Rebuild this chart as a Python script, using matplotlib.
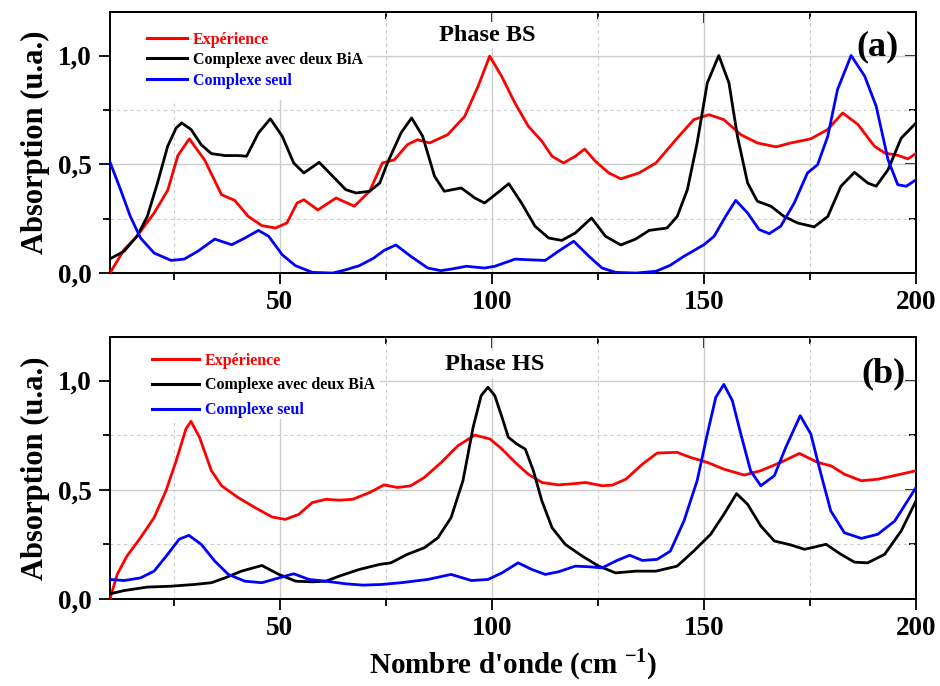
import matplotlib
matplotlib.use('Agg')
import matplotlib.pyplot as plt
from matplotlib.ticker import MultipleLocator, FuncFormatter
from matplotlib.patches import Rectangle
from matplotlib.lines import Line2D

plt.rcParams['font.family'] = ['Liberation Serif', 'DejaVu Serif']
plt.rcParams['font.weight'] = 'bold'
plt.rcParams['mathtext.fontset'] = 'custom'
plt.rcParams['mathtext.rm'] = 'Liberation Serif'
plt.rcParams['mathtext.bf'] = 'Liberation Serif:bold'

# ---- Phase BS (a) ----
bs_exp_x = [10, 13.3, 16.4, 20.4, 23.6, 26, 28.7, 32.3, 36.3, 39.4, 42.6, 45.8, 49, 51.7, 54.1, 55.7, 59, 63.3,
            67.6, 71.2, 74.2, 77, 80.1, 82.5, 85.3, 89.6, 93.6, 96.8, 99.5, 102.3, 105.5, 108.6, 111.8, 114.2,
            116.9, 119.7, 121.9, 124.4, 127.6, 130.4, 134.7, 138.7, 143.7, 147.6, 151.2, 154.7, 158.7, 162.6,
            167, 170.5, 175.2, 179.2, 182.7, 186.3, 190.2, 192.6, 195.7, 198.1, 200]
bs_exp_y = [0, 0.107, 0.17, 0.276, 0.38, 0.54, 0.617, 0.52, 0.36, 0.334, 0.26, 0.218, 0.207, 0.23, 0.322, 0.337,
            0.29, 0.345, 0.307, 0.376, 0.506, 0.52, 0.59, 0.613, 0.598, 0.636, 0.72, 0.86, 0.997, 0.905, 0.78,
            0.675, 0.606, 0.537, 0.506, 0.537, 0.57, 0.514, 0.46, 0.433, 0.46, 0.506, 0.62, 0.705, 0.728, 0.705,
            0.636, 0.598, 0.58, 0.598, 0.617, 0.66, 0.736, 0.683, 0.583, 0.552, 0.541, 0.525, 0.55]

bs_bia_x = [10, 13.3, 16.4, 18.8, 21.2, 23.6, 25.6, 26.9, 29.1, 31.5, 33.9, 37.1, 40.2, 42.2, 45, 47.8, 50.6,
            53.3, 55.7, 59.3, 62.5, 65.6, 68, 71.2, 73.6, 75.4, 78.6, 81.1, 83.7, 86.5, 88.8, 92.8, 96, 98.3,
            101.5, 104, 107, 110.2, 113.4, 116.5, 119.7, 123.5, 126.8, 130.4, 133.9, 137.1, 141.3, 143.7, 146.1,
            148.4, 150.8, 153.5, 155.9, 157.9, 160.3, 162.6, 165.8, 168.9, 172.1, 176, 179.2, 182.3, 185.5,
            188.6, 190.6, 193.4, 196.5, 200]
bs_bia_y = [0.065, 0.1, 0.17, 0.26, 0.414, 0.583, 0.667, 0.69, 0.66, 0.59, 0.549, 0.54, 0.54, 0.537, 0.644,
            0.709, 0.629, 0.506, 0.46, 0.509, 0.445, 0.383, 0.368, 0.376, 0.414, 0.506, 0.644, 0.713, 0.629,
            0.445, 0.376, 0.391, 0.345, 0.322, 0.371, 0.411, 0.322, 0.215, 0.161, 0.15, 0.184, 0.253, 0.169,
            0.129, 0.156, 0.196, 0.207, 0.26, 0.383, 0.598, 0.874, 1.0, 0.874, 0.629, 0.414, 0.33, 0.307, 0.26,
            0.23, 0.212, 0.26, 0.399, 0.463, 0.414, 0.399, 0.475, 0.62, 0.69]

bs_seul_x = [10, 12.5, 14.8, 17.2, 20.4, 24.4, 27.5, 30.7, 34.7, 38.7, 41.8, 45, 47.4, 50.6, 53.7, 57.7, 62.5,
             65.6, 68.8, 72.2, 74.6, 77.4, 80.9, 84.9, 88, 90.4, 94, 98.3, 100.7, 105.5, 108.6, 112.6, 115.7,
             119.3, 122.9, 126, 129.2, 134, 138.7, 142, 145.3, 150, 152.4, 155.1, 157.5, 160.3, 163, 165.4,
             168.1, 171.3, 174.4, 176.8, 179.2, 181.5, 184.7, 187.9, 190.6, 193.4, 195.7, 197.7, 200]
bs_seul_y = [0.51, 0.383, 0.26, 0.161, 0.092, 0.058, 0.064, 0.1, 0.156, 0.13, 0.161, 0.196, 0.169, 0.084,
             0.034, 0.003, 0, 0.015, 0.034, 0.069, 0.104, 0.129, 0.077, 0.023, 0.011, 0.018, 0.031, 0.023,
             0.031, 0.064, 0.061, 0.058, 0.1, 0.146, 0.077, 0.023, 0.003, 0, 0.008, 0.035, 0.077, 0.13, 0.169,
             0.26, 0.334, 0.276, 0.2, 0.181, 0.215, 0.322, 0.46, 0.498, 0.629, 0.844, 1.0, 0.905, 0.767, 0.521,
             0.406, 0.399, 0.429]

# ---- Phase HS (b) ----
hs_exp_x = [10, 11.7, 14, 17.2, 20.4, 23.2, 25.6, 27.9, 29.1, 31.1, 33.9, 36.3, 40.2, 44.2, 48.2, 51.3, 54.5,
            57.7, 60.9, 64, 67.2, 71.2, 74.6, 77.8, 80.9, 84.1, 88.1, 92, 96, 99.6, 102.4, 105.5, 108.6, 111.8,
            115.7, 119.7, 122.1, 126, 128.4, 131.6, 135.5, 139, 143.7, 146.8, 150.8, 154.7, 159.5, 163.4, 168.1,
            172.5, 176.8, 180, 183.1, 187.1, 191, 195.7, 200]
hs_exp_y = [0, 0.112, 0.196, 0.28, 0.372, 0.495, 0.632, 0.778, 0.813, 0.74, 0.587, 0.518, 0.464, 0.418, 0.375,
            0.364, 0.387, 0.441, 0.456, 0.452, 0.456, 0.487, 0.522, 0.51, 0.518, 0.556, 0.625, 0.701, 0.75,
            0.732, 0.686, 0.625, 0.571, 0.533, 0.522, 0.528, 0.533, 0.518, 0.521, 0.548, 0.617, 0.668, 0.671,
            0.648, 0.625, 0.594, 0.567, 0.587, 0.625, 0.666, 0.625, 0.609, 0.571, 0.541, 0.548, 0.568, 0.587]

hs_bia_x = [10, 13.3, 18.8, 24.4, 29.9, 33.9, 37.1, 41, 45.8, 49.8, 53.8, 57.7, 60.9, 64, 68.8, 73.6, 76.2,
            80.1, 84.1, 87.3, 90.4, 93.2, 95.6, 97.5, 99.1, 100.7, 102.4, 103.9, 105.9, 107.9, 109.8, 111.8,
            114.2, 117.3, 121.3, 125.2, 129.2, 133.9, 138.7, 143.7, 147.6, 151.6, 154.7, 157.7, 160.3, 163.4,
            166.6, 170.5, 173.7, 176, 178.8, 182.3, 185.5, 188.6, 192.6, 196.5, 200]
hs_bia_y = [0.023, 0.038, 0.054, 0.058, 0.066, 0.074, 0.096, 0.127, 0.153, 0.112, 0.081, 0.078, 0.081, 0.104,
            0.135, 0.158, 0.165, 0.204, 0.234, 0.28, 0.372, 0.541, 0.786, 0.931, 0.969, 0.931, 0.832, 0.74,
            0.709, 0.686, 0.587, 0.449, 0.326, 0.25, 0.196, 0.15, 0.119, 0.127, 0.127, 0.15, 0.219, 0.296,
            0.387, 0.482, 0.433, 0.334, 0.265, 0.247, 0.227, 0.237, 0.25, 0.204, 0.168, 0.165, 0.204, 0.311,
            0.449]

hs_seul_x = [10, 13.3, 17.2, 20.4, 23.6, 26.3, 28.6, 31.5, 34.7, 37.9, 41.8, 45.8, 49.8, 53.3, 56.9, 60.9,
             65.6, 69.6, 74, 78.6, 84.9, 90.4, 95.2, 99.1, 102.4, 106.2, 109.4, 112.6, 115.7, 119.7, 122.9, 126,
             129.2, 132.5, 135.5, 139, 142.1, 145.3, 148.4, 150.8, 152.8, 154.7, 156.7, 158.7, 161, 163.4,
             166.6, 169.3, 172.7, 175.2, 177.6, 179.9, 183.1, 187.1, 191, 195, 200]
hs_seul_y = [0.089, 0.084, 0.096, 0.127, 0.204, 0.273, 0.291, 0.25, 0.173, 0.112, 0.081, 0.074, 0.096, 0.115,
             0.089, 0.081, 0.069, 0.063, 0.066, 0.074, 0.089, 0.112, 0.084, 0.089, 0.119, 0.165, 0.135, 0.112,
             0.124, 0.15, 0.147, 0.142, 0.173, 0.2, 0.176, 0.181, 0.219, 0.357, 0.541, 0.755, 0.923, 0.982,
             0.908, 0.755, 0.587, 0.518, 0.564, 0.694, 0.839, 0.755, 0.571, 0.403, 0.303, 0.277, 0.296, 0.357,
             0.51]

labels = ['Expérience', 'Complexe avec deux BiA', 'Complexe seul']
colors = ['#ff0000', '#000000', '#0000ff']

fig = plt.figure(figsize=(9.4, 6.86), dpi=100)
ax_a = fig.add_axes([0.117, 0.602, 0.8575, 0.3805])
ax_b = fig.add_axes([0.117, 0.127, 0.8575, 0.382])

comma = FuncFormatter(lambda v, p: f'{v:.1f}'.replace('.', ','))


def style_axes(ax):
    ax.set_xlim(10, 200)
    ax.set_ylim(0, 1.2)
    ax.xaxis.set_major_locator(MultipleLocator(50))
    ax.xaxis.set_minor_locator(MultipleLocator(25))
    ax.yaxis.set_major_locator(MultipleLocator(0.5))
    ax.yaxis.set_minor_locator(MultipleLocator(0.25))
    ax.yaxis.set_major_formatter(comma)
    ax.set_axisbelow(True)
    ax.grid(which='major', color='#cccccc', lw=1.0, ls='-')
    ax.grid(which='minor', color='#cccccc', lw=0.8, ls=(0, (3, 3)))
    ax.tick_params(which='both', direction='out', width=1.3, labelsize=19.5)
    ax.tick_params(which='major', length=8)
    ax.tick_params(which='minor', length=5)
    ax.tick_params(axis='x', pad=4)
    ax.tick_params(axis='y', pad=5)
    for s in ax.spines.values():
        s.set_linewidth(1.4)
    for lab in ax.get_xticklabels() + ax.get_yticklabels():
        lab.set_fontweight('bold')
    # mirrored ticks on top and right point inwards
    top = ax.secondary_xaxis('top')
    top.xaxis.set_major_locator(MultipleLocator(50))
    top.xaxis.set_minor_locator(MultipleLocator(25))
    top.tick_params(which='both', direction='in', width=1.3, labeltop=False)
    top.tick_params(which='major', length=8)
    top.tick_params(which='minor', length=5)
    right = ax.secondary_yaxis('right')
    right.yaxis.set_major_locator(MultipleLocator(0.5))
    right.yaxis.set_minor_locator(MultipleLocator(0.25))
    right.tick_params(which='both', direction='in', width=1.3, labelright=False)
    right.tick_params(which='major', length=8)
    right.tick_params(which='minor', length=5)
    for sec in (top, right):
        for s in sec.spines.values():
            s.set_linewidth(1.4)


def add_legend(ax, box_h, box_w, anchor, spacing, hlen):
    ax.add_patch(Rectangle((0, 1 - box_h), box_w, box_h, transform=ax.transAxes,
                           facecolor='white', edgecolor='none', zorder=1))
    handles = [Line2D([], [], color=c, lw=2.2) for c in colors]
    leg = ax.legend(handles, labels, loc='upper left', bbox_to_anchor=anchor, frameon=False,
                    prop={'family': 'Liberation Serif', 'weight': 'bold', 'size': 11.5},
                    handlelength=hlen, handletextpad=0.35, labelspacing=spacing,
                    borderpad=0, borderaxespad=0)
    for t, c in zip(leg.get_texts(), colors):
        t.set_color(c)


series_a = [(bs_exp_x, bs_exp_y), (bs_bia_x, bs_bia_y), (bs_seul_x, bs_seul_y)]
series_b = [(hs_exp_x, hs_exp_y), (hs_bia_x, hs_bia_y), (hs_seul_x, hs_seul_y)]

for ax, series in ((ax_a, series_a), (ax_b, series_b)):
    style_axes(ax)
    for (xs, ys), c in zip(series, colors):
        ax.plot(xs, ys, color=c, lw=2.0, solid_joinstyle='round', zorder=3)

add_legend(ax_a, 0.337, 0.319, (0.046, 0.925), 0.28, 2.5)
add_legend(ax_b, 0.313, 0.335, (0.052, 0.94), 0.55, 2.95)

ax_a.text(99, 1.093, 'Phase BS', ha='center', va='center', fontsize=17.5, fontweight='bold',
          bbox=dict(facecolor='white', edgecolor='none', pad=2), zorder=4)
ax_b.text(100.8, 1.073, 'Phase HS', ha='center', va='center', fontsize=17.5, fontweight='bold',
          bbox=dict(facecolor='white', edgecolor='none', pad=2), zorder=4)
ax_a.text(191, 1.04, '(a)', ha='center', va='center', fontsize=26, fontweight='bold', zorder=4)
ax_b.text(192.4, 1.03, '(b)', ha='center', va='center', fontsize=26, fontweight='bold', zorder=4)

ax_a.set_ylabel('Absorption (u.a.)', fontsize=22, fontweight='bold', labelpad=6)
ax_b.set_ylabel('Absorption (u.a.)', fontsize=22, fontweight='bold', labelpad=6)
ax_b.set_xlabel(r"Nombre d'onde (cm $^{\mathbf{-1}}$)", fontsize=21, fontweight='bold', labelpad=4)

fig.savefig('out.png', dpi=100)
